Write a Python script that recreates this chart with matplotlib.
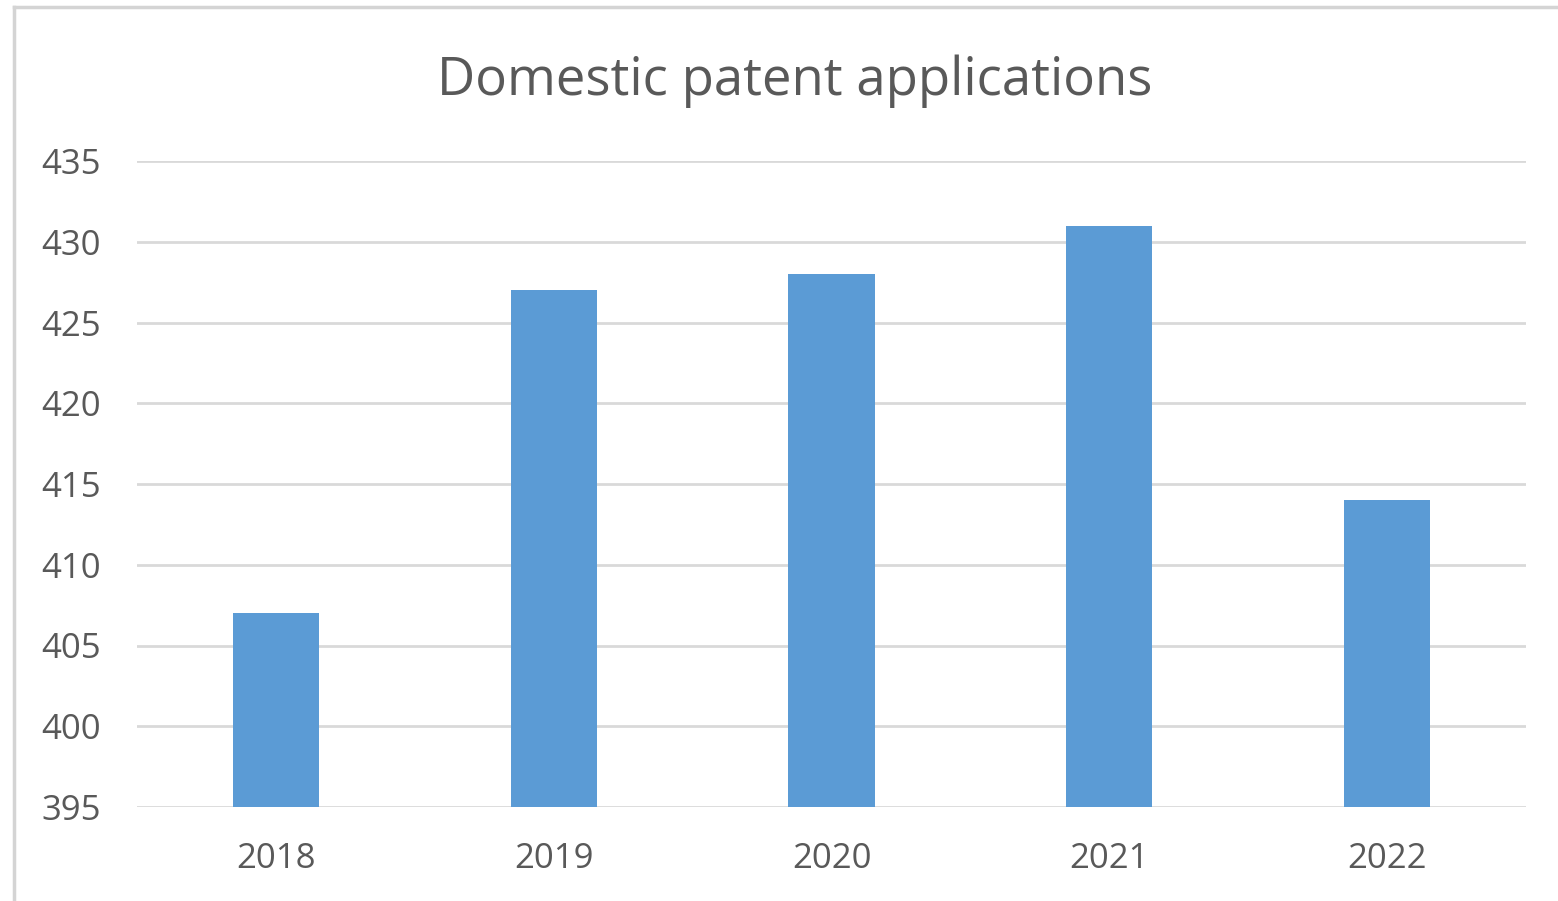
import matplotlib
matplotlib.use("Agg")
import matplotlib.pyplot as plt
from matplotlib.lines import Line2D

years = ["2018", "2019", "2020", "2021", "2022"]
applications = [407, 427, 428, 431, 414]
y_ticks = [395, 400, 405, 410, 415, 420, 425, 430, 435]

plt.rcParams['font.family'] = ['Open Sans', 'DejaVu Sans']

fig = plt.figure(figsize=(15.58, 9.01), dpi=100)
ax = fig.add_axes([137/1558, 1-807/901, (1526-137)/1558, (807-161)/901])

x = list(range(len(years)))
ax.bar(x, applications, width=0.31, color="#5B9BD5", zorder=3)
ax.set_xlim(-0.5, len(years) - 0.5)
ax.set_ylim(395, 435)
ax.set_yticks(y_ticks)
ax.set_yticklabels([str(t) for t in y_ticks])
ax.set_xticks(x)
ax.set_xticklabels(years)
ax.yaxis.grid(True, color="#D9D9D9", linewidth=2.0, zorder=0)
ax.set_axisbelow(True)
for s in ax.spines.values():
    s.set_visible(False)
ax.tick_params(axis='both', length=0, labelsize=25, colors="#595959")
ax.tick_params(axis='y', pad=26)
ax.tick_params(axis='x', pad=25)

fig.text(795/1558, 1-81/901, "Domestic patent applications", ha="center", va="center",
         fontsize=38, color="#595959")

# outer chart frame (left and top visible)
fig.add_artist(Line2D([13.5/1558, 13.5/1558], [0, 1-6.5/901], transform=fig.transFigure,
                      color="#D4D4D4", linewidth=2.5))
fig.add_artist(Line2D([13.5/1558, 1], [1-6.5/901, 1-6.5/901], transform=fig.transFigure,
                      color="#D4D4D4", linewidth=2.5))

fig.savefig("out.png", dpi=100, facecolor="white")
